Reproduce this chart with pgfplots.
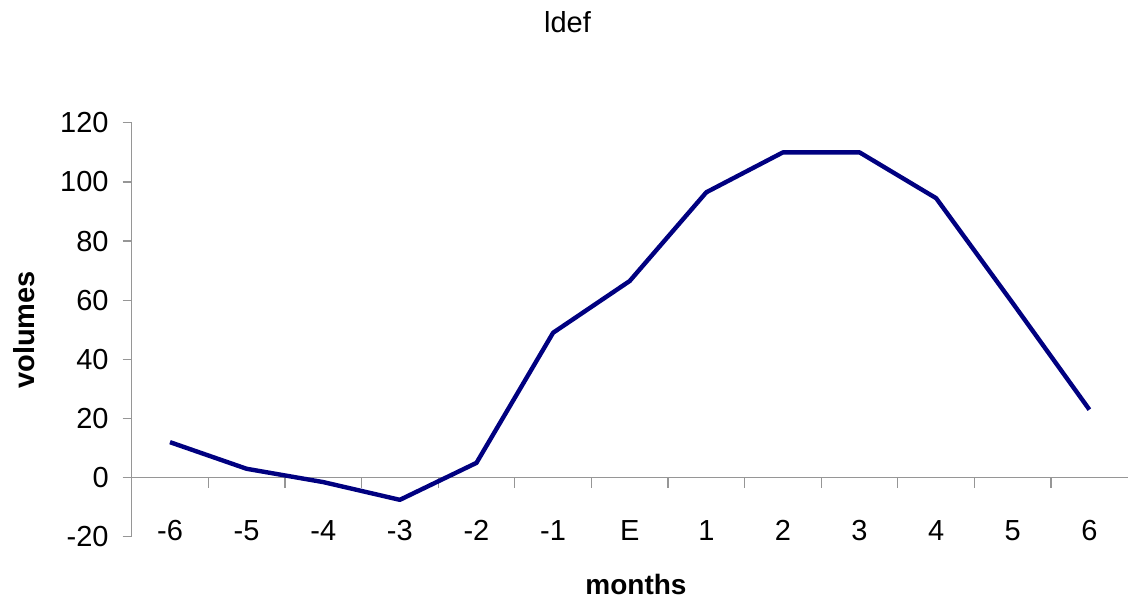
\documentclass[border=0pt]{standalone}
\usepackage{fontspec}
\setmainfont{Liberation Sans}
\usepackage{pgfplots}
\pgfplotsset{compat=1.18}
\definecolor{navy}{RGB}{0,0,128}
\definecolor{axgray}{RGB}{150,150,150}
\begin{document}
\begin{tikzpicture}
\useasboundingbox (0,0) rectangle (568pt,300pt);
\begin{axis}[
  at={(65.85pt,31.6pt)}, anchor=south west,
  scale only axis, width=498pt, height=207pt,
  xmin=-0.5, xmax=12.5, ymin=-20, ymax=120,
  axis x line=middle, axis y line=left,
  axis line style={axgray, line width=0.6pt, -},
  xtick={0,...,12},
  xticklabels={-6,-5,-4,-3,-2,-1,E,1,2,3,4,5,6},
  minor xtick={0.5,1.5,...,11.5},
  major x tick style={draw=none},
  minor x tick style={axgray, line width=0.6pt},
  xtick align=outside,
  minor tick length=5pt,
  xticklabel style={anchor=base, yshift=-27pt, font=\fontsize{14.5}{17}\selectfont},
  ytick={-20,0,...,120},
  yticklabels={-20,0,20,40,60,80,100,120},
  ytick align=outside,
  major tick length=4.5pt,
  major y tick style={axgray, line width=0.6pt},
  yticklabel style={font=\fontsize{14.5}{17}\selectfont, xshift=-3.5pt},
  clip=false,
]
\addplot[navy, line width=2.2pt, line join=round] coordinates {
 (0,12) (1,3) (2,-1.5) (3,-7.5) (4,5) (5,49) (6,66.5) (7,96.5) (8,110) (9,110) (10,94.5) (11,59) (12,23)
};
\end{axis}
\node[font=\fontsize{14.5}{16}\selectfont] at (283.75pt,289pt) {ldef};
\node[font=\bfseries\fontsize{14}{16}\selectfont, anchor=base, inner sep=0pt] at (318pt,2.5pt) {months};
\node[font=\bfseries\fontsize{14.5}{16}\selectfont, rotate=90] at (12pt,135pt) {volumes};
\end{tikzpicture}
\end{document}
